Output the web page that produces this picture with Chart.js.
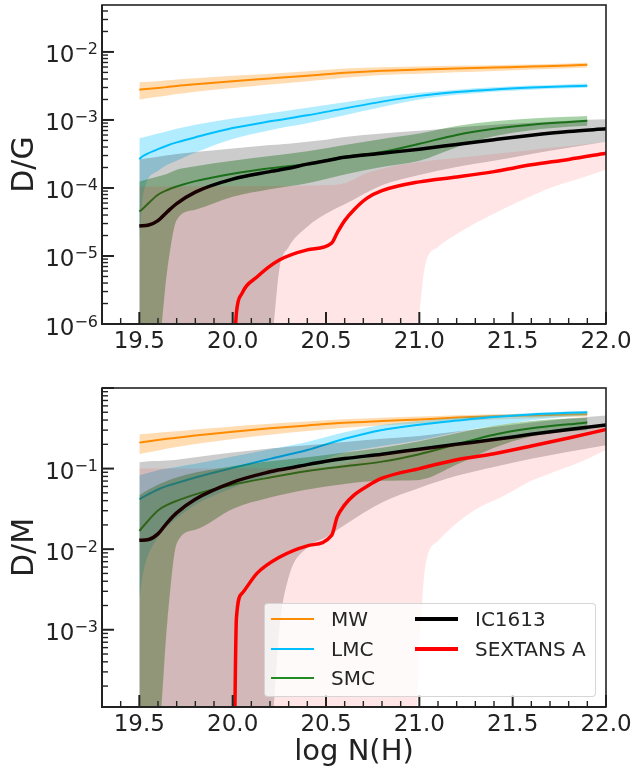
<!DOCTYPE html>
<html>
<head>
<meta charset="utf-8">
<script src="https://cdn.jsdelivr.net/npm/chart.js@4.4.1/dist/chart.umd.min.js"></script>
<style>
  body { margin: 0; background: #fff; width: 635px; height: 770px; position: relative; overflow: hidden; font-family: "DejaVu Sans", sans-serif; }
  canvas { position: absolute; left: 0; }
  #dg { top: 0; }
  #dm { top: 370px; }
  #legend { position: absolute; left: 264px; top: 603px; width: 330px; height: 92px; background: rgba(255,255,255,0.8);
            border: 1px solid rgba(204,204,204,0.8); border-radius: 4px; z-index: 2; }
  .item { position: absolute; height: 24px; line-height: 24px; font-size: 20px; color: #262626; white-space: nowrap; }
  .item span { position: absolute; top: 50%; }
</style>
</head>
<body>
<canvas id="dg" width="635" height="370"></canvas>
<canvas id="dm" width="635" height="400"></canvas>
<div id="legend"></div>
<script>
// x grids (log N(H))
const nhGrid = [19.5, 19.52, 19.6, 19.65, 19.7, 19.8, 20.0, 20.2, 20.4, 20.6, 20.8, 21.0, 21.2, 21.4, 21.6, 21.8, 21.9];
const nhGridIC = [19.5, 19.55, 19.6, 19.65, 19.7, 19.8, 20.0, 20.2, 20.22, 20.25, 20.3, 20.4, 20.5, 20.6, 20.8, 21.0, 21.2, 21.4, 21.6, 21.8, 22.0];
const nhSexLine = [20.01, 20.02, 20.05, 20.13, 20.25, 20.4, 20.53, 20.56, 20.6, 20.65, 20.72, 20.8, 21.0, 21.2, 21.4, 21.6, 21.8, 22.0];
const nhSexBand = [19.5, 20.5, 20.6, 20.7, 20.8, 20.9, 20.98, 21.0, 21.03, 21.1, 21.2, 21.3, 21.45, 21.6, 21.7, 21.85, 22.0];

// D/G
const dgMwMid = [2.79e-3, 2.82e-3, 2.95e-3, 3.05e-3, 3.16e-3, 3.35e-3, 3.72e-3, 4.07e-3, 4.47e-3, 4.95e-3, 5.31e-3, 5.50e-3, 5.69e-3, 5.89e-3, 6.10e-3, 6.31e-3, 6.46e-3];
const dgMwHi = [3.59e-3, 3.61e-3, 3.72e-3, 3.82e-3, 3.94e-3, 4.12e-3, 4.47e-3, 4.79e-3, 5.19e-3, 5.69e-3, 5.96e-3, 6.10e-3, 6.24e-3, 6.38e-3, 6.53e-3, 6.76e-3, 6.92e-3];
const dgMwLo = [2.00e-3, 2.04e-3, 2.19e-3, 2.29e-3, 2.40e-3, 2.60e-3, 2.95e-3, 3.31e-3, 3.72e-3, 4.17e-3, 4.57e-3, 4.79e-3, 5.01e-3, 5.25e-3, 5.50e-3, 5.75e-3, 5.89e-3];
const dgLmcMid = [2.65e-4, 2.95e-4, 3.72e-4, 4.22e-4, 4.68e-4, 5.56e-4, 7.59e-4, 9.55e-4, 1.17e-3, 1.48e-3, 1.86e-3, 2.26e-3, 2.57e-3, 2.81e-3, 2.99e-3, 3.13e-3, 3.18e-3];
const dgLmcHi = [5.37e-4, 5.50e-4, 6.31e-4, 6.84e-4, 7.41e-4, 8.51e-4, 1.05e-3, 1.26e-3, 1.51e-3, 1.82e-3, 2.19e-3, 2.51e-3, 2.79e-3, 3.02e-3, 3.20e-3, 3.35e-3, 3.43e-3];
const dgLmcLo = [1.51e-5, 7.94e-5, 1.78e-4, 2.19e-4, 2.51e-4, 3.31e-4, 5.25e-4, 7.08e-4, 8.91e-4, 1.17e-3, 1.55e-3, 2.00e-3, 2.34e-3, 2.60e-3, 2.79e-3, 2.92e-3, 2.97e-3];
const dgSmcMid = [4.50e-5, 5.01e-5, 7.94e-5, 9.33e-5, 1.05e-4, 1.26e-4, 1.62e-4, 1.95e-4, 2.26e-4, 2.88e-4, 3.39e-4, 4.47e-4, 6.03e-4, 7.41e-4, 8.51e-4, 9.33e-4, 9.77e-4];
const dgSmcHi = [1.24e-4, 1.29e-4, 1.48e-4, 1.62e-4, 1.86e-4, 2.09e-4, 2.51e-4, 2.95e-4, 3.47e-4, 4.27e-4, 5.25e-4, 6.31e-4, 8.13e-4, 9.55e-4, 1.05e-3, 1.11e-3, 1.14e-3];
const dgSmcLo = [5.0e-7, 5.0e-7, 5.0e-7, 6.31e-6, 3.39e-5, 4.79e-5, 7.41e-5, 9.55e-5, 1.17e-4, 1.58e-4, 2.04e-4, 2.51e-4, 3.98e-4, 5.75e-4, 7.08e-4, 7.94e-4, 8.22e-4];
const dgIcMid = [2.77e-5, 2.85e-5, 3.31e-5, 4.47e-5, 5.89e-5, 8.71e-5, 1.35e-4, 1.74e-4, 1.78e-4, 1.84e-4, 1.95e-4, 2.24e-4, 2.51e-4, 2.82e-4, 3.24e-4, 3.72e-4, 4.37e-4, 5.13e-4, 5.96e-4, 6.76e-4, 7.41e-4];
const dgIcHi = [2.59e-4, 2.75e-4, 2.88e-4, 3.02e-4, 3.16e-4, 3.39e-4, 3.80e-4, 4.27e-4, 4.32e-4, 4.37e-4, 4.47e-4, 4.79e-4, 5.13e-4, 5.62e-4, 6.31e-4, 6.92e-4, 7.76e-4, 8.51e-4, 9.12e-4, 9.77e-4, 1.02e-3];
const dgIcLo = [3.0e-7, 3.0e-7, 3.0e-7, 3.0e-7, 3.0e-7, 3.0e-7, 3.0e-7, 3.0e-7, 1.0e-6, 6.31e-6, 1.35e-5, 2.69e-5, 4.17e-5, 5.75e-5, 1.10e-4, 1.55e-4, 2.04e-4, 2.51e-4, 3.16e-4, 3.89e-4, 4.79e-4];
const dgSexMid = [5.0e-7, 1.45e-6, 2.82e-6, 4.90e-6, 8.71e-6, 1.23e-5, 1.55e-5, 2.19e-5, 3.31e-5, 4.79e-5, 7.08e-5, 9.12e-5, 1.23e-4, 1.45e-4, 1.74e-4, 2.19e-4, 2.63e-4, 3.24e-4];
const dgSexHi = [1.05e-4, 1.10e-4, 1.17e-4, 1.58e-4, 1.91e-4, 2.19e-4, 2.37e-4, 2.40e-4, 2.45e-4, 2.60e-4, 2.75e-4, 2.95e-4, 3.27e-4, 3.63e-4, 3.89e-4, 4.27e-4, 4.79e-4];
const dgSexLo = [3.0e-7, 3.0e-7, 3.0e-7, 3.0e-7, 3.0e-7, 3.0e-7, 3.0e-7, 1.26e-6, 6.92e-6, 1.35e-5, 2.09e-5, 3.02e-5, 4.90e-5, 7.59e-5, 1.00e-4, 1.35e-4, 1.86e-4];

// D/M
const dmMwMid = [0.210, 0.214, 0.226, 0.234, 0.241, 0.257, 0.287, 0.316, 0.343, 0.370, 0.389, 0.407, 0.429, 0.445, 0.457, 0.468, 0.473];
const dmMwHi = [0.265, 0.268, 0.279, 0.285, 0.290, 0.305, 0.333, 0.361, 0.385, 0.410, 0.427, 0.442, 0.459, 0.471, 0.479, 0.490, 0.495];
const dmMwLo = [0.151, 0.155, 0.168, 0.178, 0.185, 0.202, 0.233, 0.263, 0.292, 0.322, 0.343, 0.363, 0.386, 0.406, 0.422, 0.437, 0.442];
const dmLmcMid = [0.0417, 0.0442, 0.0550, 0.0610, 0.0661, 0.0776, 0.102, 0.132, 0.170, 0.234, 0.302, 0.351, 0.394, 0.437, 0.470, 0.492, 0.501];
const dmLmcHi = [0.0826, 0.0851, 0.0955, 0.100, 0.105, 0.115, 0.141, 0.174, 0.214, 0.282, 0.347, 0.389, 0.427, 0.462, 0.490, 0.511, 0.519];
const dmLmcLo = [2.29e-3, 5.01e-3, 0.0141, 0.0191, 0.0240, 0.0355, 0.0575, 0.0832, 0.110, 0.158, 0.191, 0.224, 0.282, 0.339, 0.398, 0.442, 0.457];
const dmSmcMid = [0.0168, 0.0191, 0.0302, 0.0355, 0.0398, 0.0479, 0.0631, 0.0776, 0.0933, 0.107, 0.122, 0.151, 0.200, 0.263, 0.316, 0.355, 0.372];
const dmSmcHi = [0.0468, 0.0501, 0.0631, 0.0708, 0.0776, 0.0891, 0.107, 0.123, 0.138, 0.158, 0.182, 0.219, 0.275, 0.339, 0.389, 0.417, 0.427];
const dmSmcLo = [5.0e-5, 5.0e-5, 5.0e-5, 1.26e-3, 0.0117, 0.0174, 0.0316, 0.0437, 0.0550, 0.0646, 0.0708, 0.0724, 0.112, 0.182, 0.251, 0.288, 0.302];
const dmIcMid = [0.0129, 0.0132, 0.0155, 0.0214, 0.0282, 0.0417, 0.0676, 0.0912, 0.0933, 0.0966, 0.101, 0.112, 0.123, 0.133, 0.151, 0.174, 0.200, 0.229, 0.266, 0.305, 0.347];
const dmIcHi = [0.120, 0.123, 0.124, 0.126, 0.129, 0.138, 0.158, 0.178, 0.180, 0.182, 0.186, 0.195, 0.204, 0.214, 0.234, 0.254, 0.288, 0.327, 0.372, 0.417, 0.457];
const dmIcLo = [5.0e-5, 5.0e-5, 5.0e-5, 5.0e-5, 5.0e-5, 5.0e-5, 5.0e-5, 5.0e-5, 1.1e-4, 1.0e-3, 4.47e-3, 0.0105, 0.0141, 0.0200, 0.0380, 0.0575, 0.0813, 0.105, 0.132, 0.162, 0.195];
const dmSexMid = [5.0e-5, 1.38e-3, 2.82e-3, 5.01e-3, 7.94e-3, 0.0110, 0.0148, 0.0251, 0.0355, 0.0468, 0.0603, 0.0759, 0.100, 0.129, 0.153, 0.191, 0.240, 0.305];
const dmSexHi = [0.100, 0.105, 0.115, 0.132, 0.148, 0.162, 0.174, 0.176, 0.180, 0.186, 0.200, 0.214, 0.234, 0.257, 0.275, 0.302, 0.331];
const dmSexLo = [5.0e-5, 5.0e-5, 5.0e-5, 5.0e-5, 5.0e-5, 5.0e-5, 5.0e-5, 5.01e-4, 5.62e-3, 0.0126, 0.0209, 0.0309, 0.0457, 0.0708, 0.0871, 0.117, 0.170];

// axes
const xTicks = [19.5, 20.0, 20.5, 21.0, 21.5, 22.0];
const xTickLabels = ["19.5", "20.0", "20.5", "21.0", "21.5", "22.0"];
const dgExponents = [-6, -5, -4, -3, -2];
const dmExponents = [-3, -2, -1];

const seriesNames = ["MW", "LMC", "SMC", "IC1613", "SEXTANS A"];
const STYLE = [
  { line: "#ff8c00", band: "rgba(255,140,0,0.3)", width: 2 },
  { line: "#00bfff", band: "rgba(0,191,255,0.3)", width: 2 },
  { line: "#228b22", band: "rgba(34,139,34,0.4)", width: 2 },
  { line: "#000000", band: "rgba(0,0,0,0.2)", width: 3.5 },
  { line: "#ff0000", band: "rgba(255,0,0,0.1)", width: 3.5 }
];

const INK = "#222222";
const FONT = '"DejaVu Sans", sans-serif';

function pts(xs, ys) {
  return xs.map((x, i) => ({ x: x, y: ys[i] }));
}

// each series: lower edge, upper edge filled down to it, then the median line on top
function buildDatasets(rows) {
  const sets = [];
  rows.forEach((r, i) => {
    const st = STYLE[i];
    const ord = 100 - i * 10;
    const common = { pointRadius: 0, cubicInterpolationMode: "monotone", clip: 0 };
    sets.push({ ...common, data: pts(r.bandX, r.lo), borderWidth: 0, fill: false, order: ord });
    sets.push({ ...common, data: pts(r.bandX, r.hi), borderWidth: 0, fill: "-1", backgroundColor: st.band, order: ord });
    sets.push({ ...common, label: seriesNames[i], data: pts(r.lineX, r.mid), borderColor: st.line,
                borderWidth: st.width, fill: false, order: ord - 5 });
  });
  return sets;
}

function drawPower(ctx, exp, xRight, yTick) {
  const sup = "\u2212" + Math.abs(exp);
  ctx.font = "23px " + FONT;
  const wb = ctx.measureText("10").width;
  ctx.font = "16px " + FONT;
  const ws = ctx.measureText(sup).width;
  const x0 = xRight - wb - ws;
  ctx.textAlign = "left";
  ctx.textBaseline = "alphabetic";
  ctx.font = "23px " + FONT;
  ctx.fillText("10", x0, yTick + 10.5);
  ctx.font = "16px " + FONT;
  ctx.fillText(sup, x0 + wb, yTick + 2.5);
}

const frame = {
  id: "frame",
  afterDraw(chart, args, opts) {
    const { ctx, chartArea: a } = chart;
    const xs = chart.scales.x, ys = chart.scales.y;
    ctx.save();
    ctx.strokeStyle = INK;
    ctx.fillStyle = INK;

    // x ticks, pointing inward
    for (let i = 193; i <= 220; i++) {
      const v = i / 10;
      const major = xTicks.some(t => Math.abs(t - v) < 1e-6);
      const px = xs.getPixelForValue(v);
      ctx.lineWidth = major ? 2 : 1.4;
      ctx.beginPath();
      ctx.moveTo(px, a.bottom);
      ctx.lineTo(px, a.bottom - (major ? 12 : 6));
      ctx.stroke();
    }

    // y ticks: decades and 2..9 minor marks
    const lo = Math.floor(Math.log10(ys.min)), hi = Math.ceil(Math.log10(ys.max));
    for (let k = lo; k <= hi; k++) {
      for (let m = 1; m <= 9; m++) {
        const v = m * Math.pow(10, k);
        if (v < ys.min * 0.999 || v > ys.max) continue;
        const py = ys.getPixelForValue(v);
        ctx.lineWidth = m === 1 ? 2 : 1.4;
        ctx.beginPath();
        ctx.moveTo(a.left, py);
        ctx.lineTo(a.left + (m === 1 ? 12 : 6), py);
        ctx.stroke();
      }
    }

    // frame
    ctx.lineWidth = 1.6;
    ctx.strokeRect(a.left, a.top, a.right - a.left, a.bottom - a.top);
    ctx.lineWidth = 2;
    ctx.beginPath();
    ctx.moveTo(a.left, a.top);
    ctx.lineTo(a.left, a.bottom);
    ctx.lineTo(a.right, a.bottom);
    ctx.stroke();

    // tick labels
    ctx.font = "23px " + FONT;
    ctx.textAlign = "center";
    ctx.textBaseline = "alphabetic";
    xTicks.forEach((t, i) => ctx.fillText(xTickLabels[i], xs.getPixelForValue(t), a.bottom + 24));
    opts.exponents.forEach(e => drawPower(ctx, e, a.left - 4, ys.getPixelForValue(Math.pow(10, e))));

    // axis titles
    ctx.font = "30px " + FONT;
    ctx.textAlign = "center";
    ctx.save();
    ctx.translate(33, (a.top + a.bottom) / 2);
    ctx.rotate(-Math.PI / 2);
    ctx.fillText(opts.yTitle, 0, 0);
    ctx.restore();
    if (opts.xTitle) {
      ctx.font = "29px " + FONT;
      ctx.fillText(opts.xTitle, (a.left + a.right) / 2, a.bottom + 53);
    }
    ctx.restore();
  }
};

function makeChart(id, rows, yMin, yMax, pad, opts) {
  return new Chart(document.getElementById(id), {
    type: "line",
    data: { datasets: buildDatasets(rows) },
    options: {
      responsive: false,
      animation: false,
      events: [],
      layout: { padding: pad },
      scales: {
        x: { type: "linear", min: 19.3, max: 22.0, display: false },
        y: { type: "logarithmic", min: yMin, max: yMax, display: false }
      },
      plugins: { legend: { display: false }, tooltip: { enabled: false }, frame: opts }
    },
    plugins: [frame]
  });
}

makeChart("dg", [
  { bandX: nhGrid, lineX: nhGrid, mid: dgMwMid, lo: dgMwLo, hi: dgMwHi },
  { bandX: nhGrid, lineX: nhGrid, mid: dgLmcMid, lo: dgLmcLo, hi: dgLmcHi },
  { bandX: nhGrid, lineX: nhGrid, mid: dgSmcMid, lo: dgSmcLo, hi: dgSmcHi },
  { bandX: nhGridIC, lineX: nhGridIC, mid: dgIcMid, lo: dgIcLo, hi: dgIcHi },
  { bandX: nhSexBand, lineX: nhSexLine, mid: dgSexMid, lo: dgSexLo, hi: dgSexHi }
], 1e-6, 0.049, { left: 102, right: 29, top: 5, bottom: 46 }, { exponents: dgExponents, yTitle: "D/G" });

makeChart("dm", [
  { bandX: nhGrid, lineX: nhGrid, mid: dmMwMid, lo: dmMwLo, hi: dmMwHi },
  { bandX: nhGrid, lineX: nhGrid, mid: dmLmcMid, lo: dmLmcLo, hi: dmLmcHi },
  { bandX: nhGrid, lineX: nhGrid, mid: dmSmcMid, lo: dmSmcLo, hi: dmSmcHi },
  { bandX: nhGridIC, lineX: nhGridIC, mid: dmIcMid, lo: dmIcLo, hi: dmIcHi },
  { bandX: nhSexBand, lineX: nhSexLine, mid: dmSexMid, lo: dmSexLo, hi: dmSexHi }
], 1.1e-4, 1.0, { left: 102, right: 29, top: 18, bottom: 63 }, { exponents: dmExponents, yTitle: "D/M", xTitle: "log N(H)" });

// legend: two columns, filled top to bottom
const legendSlots = [[6, 15], [6, 45], [6, 74], [150, 15], [150, 45]];
const legend = document.getElementById("legend");
seriesNames.forEach((name, i) => {
  const [lx, cy] = legendSlots[i];
  const item = document.createElement("div");
  item.className = "item";
  item.style.left = lx + "px";
  item.style.top = (cy - 12) + "px";
  const bar = document.createElement("span");
  bar.style.left = "0px";
  bar.style.width = "43px";
  bar.style.height = STYLE[i].width + "px";
  bar.style.marginTop = (-STYLE[i].width / 2) + "px";
  bar.style.background = STYLE[i].line;
  const txt = document.createElement("div");
  txt.textContent = name;
  txt.style.marginLeft = "60px";
  item.appendChild(bar);
  item.appendChild(txt);
  legend.appendChild(item);
});
</script>
</body>
</html>
